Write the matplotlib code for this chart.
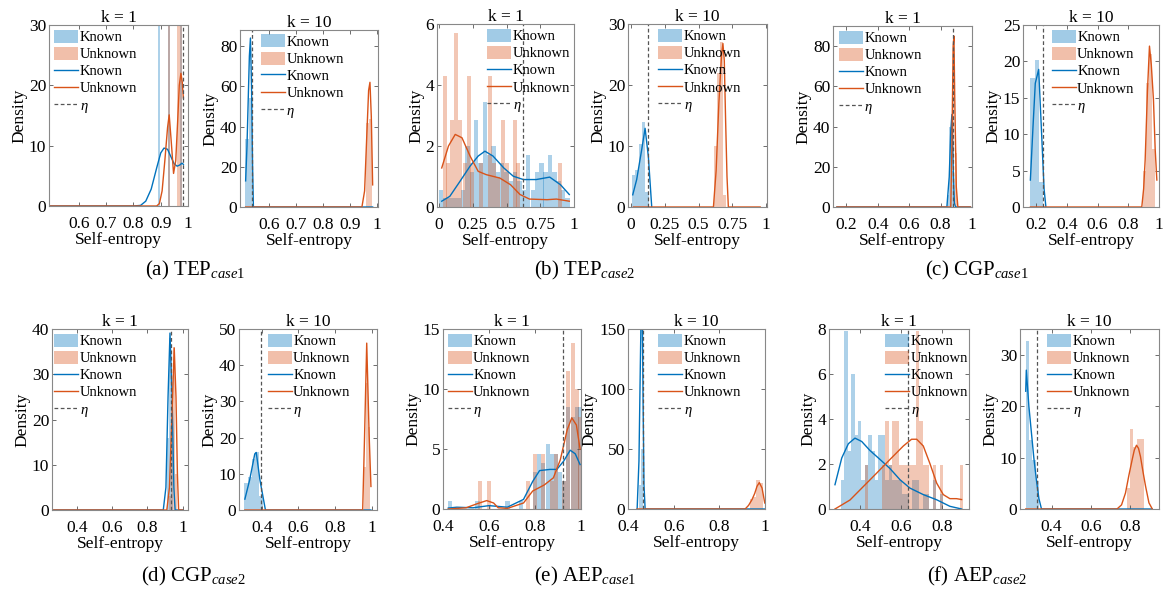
import numpy as np
import matplotlib.pyplot as plt
from matplotlib.patches import Patch
from matplotlib.lines import Line2D
from matplotlib.ticker import FormatStrFormatter

plt.rcParams['font.family'] = ['Liberation Serif', 'DejaVu Serif']
plt.rcParams['mathtext.fontset'] = 'custom'
plt.rcParams['mathtext.rm'] = 'Liberation Serif'
plt.rcParams['mathtext.it'] = 'Liberation Serif:italic'

# ---------------- TEP case1 ----------------
tep1_k1_known_bins = [0.893, 0.930, 0.975]
tep1_k1_known_dens = [45, 45, 45]
tep1_k1_unknown_bins = [0.930, 0.965, 0.975]
tep1_k1_unknown_dens = [45, 45, 45]
tep1_k1_known_kde_x = [0.49, 0.80, 0.826, 0.845, 0.865, 0.885, 0.90, 0.912, 0.925, 0.937, 0.949, 0.96, 0.97, 0.978, 0.983]
tep1_k1_known_kde_y = [0, 0, 0.1, 0.8, 2.8, 6.3, 8.8, 9.6, 9.4, 8.2, 7.0, 6.6, 6.8, 7.1, 6.9]
tep1_k1_unknown_kde_x = [0.49, 0.885, 0.895, 0.905, 0.915, 0.925, 0.931, 0.938, 0.947, 0.955, 0.962, 0.968, 0.974, 0.979, 0.983]
tep1_k1_unknown_kde_y = [0, 0, 0.4, 2.5, 7.5, 13, 15.1, 11, 5.4, 7.5, 14, 20, 22, 20.5, 17.9]
tep1_k1_eta = 0.98

tep1_k10_known_bins = [0.517, 0.530]
tep1_k10_known_dens = [34, 54]
tep1_k10_unknown_bins = [0.967, 0.977]
tep1_k10_unknown_dens = [42, 44]
tep1_k10_known_kde_x = [0.511, 0.516, 0.521, 0.525, 0.529, 0.533, 0.537, 0.540, 0.985]
tep1_k10_known_kde_y = [13, 30, 55, 75, 84, 60, 20, 0, 0]
tep1_k10_unknown_kde_x = [0.511, 0.945, 0.955, 0.963, 0.970, 0.975, 0.980, 0.985]
tep1_k10_unknown_kde_y = [0, 0, 8, 35, 58, 62, 45, 11]
tep1_k10_eta = 0.536

# ---------------- TEP case2 ----------------
tep2_k1_known_bins = [0.016, 0.048, 0.081, 0.113, 0.145, 0.177, 0.210, 0.242, 0.274, 0.306,
                      0.339, 0.371, 0.403, 0.435, 0.468, 0.500, 0.532, 0.565, 0.597, 0.629,
                      0.661, 0.694, 0.726, 0.758, 0.790, 0.823, 0.855, 0.887, 0.919, 0.952]
tep2_k1_known_dens = [0.57, 0.29, 0.29, 0.29, 0.29, 0.57, 2.0, 1.14, 2.86, 1.43,
                      3.43, 1.71, 2.0, 1.14, 1.43, 1.14, 0.86, 1.14, 0.86, 0.57,
                      1.71, 0.57, 1.14, 1.43, 1.14, 1.71, 1.14, 0.86, 0.57, 0.29]
tep2_k1_unknown_bins = [0.042, 0.069, 0.096, 0.128, 0.158, 0.190, 0.220, 0.244, 0.311, 0.378,
                        0.405, 0.437, 0.477, 0.501, 0.563, 0.588, 0.896]
tep2_k1_unknown_dens = [4.29, 1.43, 2.86, 5.71, 2.86, 1.43, 4.29, 1.43, 1.43, 4.29,
                        1.43, 1.0, 2.86, 1.43, 2.86, 1.43, 1.43]
tep2_k1_known_kde_x = [0.02, 0.08, 0.155, 0.23, 0.29, 0.34, 0.40, 0.48, 0.55, 0.625, 0.72, 0.82, 0.90, 0.965]
tep2_k1_known_kde_y = [0.19, 0.35, 0.84, 1.34, 1.67, 1.83, 1.67, 1.28, 1.01, 0.90, 0.90, 0.98, 0.73, 0.41]
tep2_k1_unknown_kde_x = [0.02, 0.07, 0.12, 0.17, 0.23, 0.29, 0.35, 0.45, 0.53, 0.60, 0.67, 0.80, 0.87, 0.965]
tep2_k1_unknown_kde_y = [1.28, 2.0, 2.38, 2.27, 1.67, 1.17, 1.06, 0.95, 0.73, 0.41, 0.26, 0.24, 0.26, 0.19]
tep2_k1_eta = 0.62

tep2_k10_known_bins = [0.020, 0.045, 0.070, 0.095, 0.120]
tep2_k10_known_dens = [5.2, 6.0, 10.3, 14.0, 2.5]
tep2_k10_unknown_bins = [0.628, 0.650, 0.672, 0.694]
tep2_k10_unknown_dens = [10, 22, 27, 2]
tep2_k10_known_kde_x = [0.015, 0.044, 0.081, 0.106, 0.13, 0.155]
tep2_k10_known_kde_y = [2.0, 4.5, 9.4, 12.9, 8.3, 0]
tep2_k10_unknown_kde_x = [0.02, 0.61, 0.63, 0.65, 0.67, 0.68, 0.69, 0.70, 0.71, 0.72, 0.955]
tep2_k10_unknown_kde_y = [0, 0, 6, 17, 25, 26.8, 24, 14, 5, 0, 0]
tep2_k10_eta = 0.13

# ---------------- CGP case1 ----------------
cgp1_k1_known_bins = [0.846, 0.862, 0.878]
cgp1_k1_known_dens = [6, 40, 18]
cgp1_k1_unknown_bins = [0.883, 0.898]
cgp1_k1_unknown_dens = [85, 27]
cgp1_k1_known_kde_x = [0.14, 0.84, 0.855, 0.865, 0.872, 0.88, 0.888, 0.895, 0.99]
cgp1_k1_known_kde_y = [0, 0, 15, 38, 46, 20, 2, 0, 0]
cgp1_k1_unknown_kde_x = [0.14, 0.865, 0.872, 0.88, 0.885, 0.89, 0.90, 0.91, 0.99]
cgp1_k1_unknown_kde_y = [0, 0, 30, 80, 85, 55, 10, 0, 0]
cgp1_k1_eta = 0.878

cgp1_k10_known_bins = [0.176, 0.205, 0.234]
cgp1_k10_known_dens = [17.7, 20.2, 3.5]
cgp1_k10_unknown_bins = [0.905, 0.925, 0.945, 0.965]
cgp1_k10_unknown_dens = [5, 17, 21, 8]
cgp1_k10_known_kde_x = [0.163, 0.18, 0.195, 0.217, 0.238, 0.252, 0.264]
cgp1_k10_known_kde_y = [3.7, 11, 17, 18.9, 9.2, 2.5, 0]
cgp1_k10_unknown_kde_x = [0.163, 0.888, 0.90, 0.91, 0.925, 0.938, 0.95, 0.964, 0.975, 0.986]
cgp1_k10_unknown_kde_y = [0, 0, 2.5, 6.5, 16, 22.1, 19.5, 14.7, 8, 3.7]
cgp1_k10_eta = 0.243

# ---------------- CGP case2 ----------------
cgp2_k1_known_bins = [0.915, 0.927, 0.939]
cgp2_k1_known_dens = [16, 38, 20]
cgp2_k1_unknown_bins = [0.927, 0.939, 0.951, 0.963]
cgp2_k1_unknown_dens = [3, 19, 36, 8]
cgp2_k1_known_kde_x = [0.27, 0.89, 0.905, 0.917, 0.928, 0.94, 0.95, 0.957, 1.0]
cgp2_k1_known_kde_y = [0, 0, 5, 25, 39.1, 25, 5, 0, 0]
cgp2_k1_unknown_kde_x = [0.27, 0.91, 0.925, 0.94, 0.952, 0.962, 0.97, 0.977, 1.0]
cgp2_k1_unknown_kde_y = [0, 0, 5, 22, 35.8, 25, 8, 0, 0]
cgp2_k1_eta = 0.934

cgp2_k10_known_bins = [0.315, 0.335, 0.355, 0.375, 0.395]
cgp2_k10_known_dens = [7.5, 9, 14, 16, 4]
cgp2_k10_unknown_bins = [0.962, 0.972, 0.984]
cgp2_k10_unknown_dens = [12, 35, 23]
cgp2_k10_known_kde_x = [0.308, 0.334, 0.362, 0.37, 0.39, 0.42, 0.995]
cgp2_k10_known_kde_y = [3, 8.3, 15.5, 15.9, 8.3, 0, 0]
cgp2_k10_unknown_kde_x = [0.308, 0.95, 0.96, 0.972, 0.985, 0.995]
cgp2_k10_unknown_kde_y = [0, 0, 20, 46.1, 21, 6.5]
cgp2_k10_eta = 0.395

# ---------------- AEP case1 ----------------
aep1_k1_known_bins = [0.430, 0.550, 0.680, 0.740, 0.800, 0.818, 0.836, 0.855, 0.873, 0.891,
                      0.909, 0.927, 0.945, 0.964, 0.982, 0.995]
aep1_k1_known_dens = [0.7, 0.7, 0.7, 0.7, 3.1, 4.6, 3.8, 5.4, 4.6, 4.6,
                      3.1, 2.3, 8.5, 7.7, 8.5, 8.5]
aep1_k1_unknown_bins = [0.560, 0.600, 0.770, 0.800, 0.836, 0.873, 0.891, 0.927, 0.945, 0.964, 0.982, 0.995]
aep1_k1_unknown_dens = [2.3, 2.3, 2.3, 4.6, 4.6, 2.3, 4.6, 2.3, 11.5, 13.8, 10.0, 7.7]
aep1_k1_known_kde_x = [0.423, 0.46, 0.53, 0.60, 0.68, 0.75, 0.79, 0.82, 0.865, 0.895, 0.925, 0.953, 0.975, 0.996]
aep1_k1_known_kde_y = [0.08, 0.15, 0.1, 0.28, 0.15, 0.8, 2.3, 3.2, 3.3, 3.3, 4.0, 4.9, 4.6, 3.7]
aep1_k1_unknown_kde_x = [0.423, 0.50, 0.55, 0.59, 0.62, 0.64, 0.68, 0.75, 0.79, 0.84, 0.88, 0.91, 0.94, 0.96, 0.98, 0.996]
aep1_k1_unknown_kde_y = [0, 0.1, 0.45, 0.7, 0.5, 0.1, 0.05, 0.5, 1.5, 2.0, 2.6, 4.1, 6.6, 7.6, 7.0, 5.0]
aep1_k1_eta = 0.923

aep1_k10_known_bins = [0.452, 0.462]
aep1_k10_known_dens = [20, 50]
aep1_k10_unknown_bins = [0.940, 0.955, 0.970, 0.985]
aep1_k10_unknown_dens = [8, 10, 24, 22]
aep1_k10_known_kde_x = [0.44, 0.448, 0.454, 0.458, 0.462, 0.466, 0.47, 0.475, 1.0]
aep1_k10_known_kde_y = [0, 40, 120, 170, 180, 90, 20, 0, 0]
aep1_k10_unknown_kde_x = [0.44, 0.913, 0.928, 0.943, 0.955, 0.965, 0.975, 0.987, 0.999]
aep1_k10_unknown_kde_y = [0, 0, 3, 7.8, 13, 18.9, 22, 17.5, 5]
aep1_k10_eta = 0.465

# ---------------- AEP case2 ----------------
aep2_k1_known_bins = [0.3165, 0.333, 0.3495, 0.366, 0.3825, 0.399, 0.4155, 0.432, 0.4485, 0.465,
                      0.4815, 0.498, 0.5145, 0.531, 0.5475, 0.564, 0.5805, 0.597, 0.6135, 0.630,
                      0.663, 0.6795, 0.7125, 0.729, 0.762, 0.795]
aep2_k1_known_dens = [1.3, 7.9, 2.6, 6.0, 3.3, 3.9, 1.3, 1.95, 3.3, 2.6,
                      1.3, 3.3, 3.3, 1.3, 1.95, 1.3, 1.3, 1.3, 0.65, 0.65,
                      1.3, 1.3, 0.65, 0.65, 1.3, 0.65]
aep2_k1_unknown_bins = [0.432, 0.5145, 0.531, 0.5475, 0.564, 0.5805, 0.597, 0.6135, 0.630, 0.6465,
                        0.663, 0.6795, 0.696, 0.7125, 0.729, 0.762, 0.795, 0.894]
aep2_k1_unknown_dens = [1.95, 1.95, 3.9, 1.95, 3.9, 3.9, 1.95, 1.95, 1.95, 1.95,
                        1.95, 7.9, 3.9, 1.95, 1.95, 1.95, 1.95, 1.95]
aep2_k1_known_kde_x = [0.279, 0.312, 0.344, 0.376, 0.409, 0.449, 0.498, 0.546, 0.595, 0.643, 0.708, 0.773, 0.837, 0.894]
aep2_k1_known_kde_y = [1.08, 2.27, 2.9, 3.15, 3.0, 2.6, 2.2, 1.8, 1.3, 0.93, 0.64, 0.41, 0.12, 0]
aep2_k1_unknown_kde_x = [0.279, 0.352, 0.417, 0.482, 0.546, 0.611, 0.651, 0.676, 0.708, 0.741, 0.773, 0.805, 0.837, 0.869, 0.894]
aep2_k1_unknown_kde_y = [0, 0.4, 1.0, 1.6, 2.2, 2.8, 3.1, 3.1, 2.8, 2.0, 1.15, 0.64, 0.46, 0.46, 0.42]
aep2_k1_eta = 0.635

aep2_k10_known_bins = [0.277, 0.294, 0.311, 0.328]
aep2_k10_known_dens = [32.7, 13.5, 9.5, 5.4]
aep2_k10_unknown_bins = [0.790, 0.807, 0.824, 0.841, 0.858]
aep2_k10_unknown_dens = [4, 15.5, 12, 13.6, 13.6]
aep2_k10_known_kde_x = [0.269, 0.272, 0.285, 0.298, 0.31, 0.323, 0.336, 0.349, 0.911]
aep2_k10_known_kde_y = [22.9, 27, 20, 14.8, 10, 5.7, 2, 0, 0]
aep2_k10_unknown_kde_x = [0.269, 0.732, 0.755, 0.775, 0.792, 0.809, 0.82, 0.831, 0.841, 0.851, 0.864, 0.877, 0.894, 0.911]
aep2_k10_unknown_kde_y = [0, 0, 0.8, 3.1, 6.5, 9.6, 11.5, 12.4, 11.8, 10.2, 7.2, 4.4, 1.2, 0]
aep2_k10_eta = 0.327

KNOWN_C = '#0072BD'
UNKNOWN_C = '#D95319'
ALPHA = 0.32

fig = plt.figure(figsize=(11.63, 6.01), dpi=100)
W, H = 1163.0, 601.0


def add_ax(l, t, r, b):
    return fig.add_axes([l / W, 1 - b / H, (r - l) / W, (b - t) / H])


def panel(box, kb, kd, kw, ub, ud, uw, kx, ky, ux, uy, eta, xlim, ylim, xticks, yticks, title, leg_x):
    ax = add_ax(*box)
    ax.bar(kb, kd, width=kw, color=KNOWN_C, alpha=ALPHA, linewidth=0)
    ax.bar(ub, ud, width=uw, color=UNKNOWN_C, alpha=ALPHA, linewidth=0)
    ax.plot(kx, ky, color=KNOWN_C, lw=1.0)
    ax.plot(ux, uy, color=UNKNOWN_C, lw=1.0)
    ax.axvline(eta, color='#555555', lw=0.9, ls=(0, (3, 2)))
    ax.set_xlim(*xlim)
    ax.set_ylim(*ylim)
    ax.set_xticks(xticks)
    ax.set_yticks(yticks)
    ax.xaxis.set_major_formatter(FormatStrFormatter('%g'))
    ax.yaxis.set_major_formatter(FormatStrFormatter('%g'))
    ax.tick_params(direction='in', length=3, width=0.6, top=True, right=True,
                   labelsize=12.5, color='#555555')
    ax.tick_params(axis='x', pad=7.5)
    ax.tick_params(axis='y', pad=2)
    for s in ax.spines.values():
        s.set_color('#888888')
        s.set_linewidth(0.8)
    ax.set_title(title, fontsize=12.5, pad=2.5)
    ax.set_xlabel('Self-entropy', fontsize=12.5, labelpad=0)
    ax.set_ylabel('Density', fontsize=12.5, labelpad=1)
    handles = [Patch(facecolor=KNOWN_C, alpha=ALPHA + 0.05, linewidth=0),
               Patch(facecolor=UNKNOWN_C, alpha=ALPHA + 0.05, linewidth=0),
               Line2D([], [], color=KNOWN_C, lw=1.0),
               Line2D([], [], color=UNKNOWN_C, lw=1.0),
               Line2D([], [], color='#555555', lw=0.9, ls=(0, (3, 2)))]
    ax.legend(handles, ['Known', 'Unknown', 'Known', 'Unknown', r'$\eta$'],
              loc='upper left', bbox_to_anchor=(leg_x, 0.975), frameon=False,
              fontsize=10.5, handlelength=1.65, handleheight=1.0, handletextpad=0.1,
              labelspacing=0.18, borderpad=0, borderaxespad=0)
    return ax


panel((49, 25, 188, 206), tep1_k1_known_bins, tep1_k1_known_dens, 0.0095,
      tep1_k1_unknown_bins, tep1_k1_unknown_dens, 0.0095,
      tep1_k1_known_kde_x, tep1_k1_known_kde_y, tep1_k1_unknown_kde_x, tep1_k1_unknown_kde_y,
      tep1_k1_eta, (0.49, 1.0), (0, 30), [0.6, 0.7, 0.8, 0.9, 1.0], [0, 10, 20, 30], 'k = 1', 0.036)
panel((240, 30, 378, 207), tep1_k10_known_bins, tep1_k10_known_dens, 0.013,
      tep1_k10_unknown_bins, tep1_k10_unknown_dens, 0.01,
      tep1_k10_known_kde_x, tep1_k10_known_kde_y, tep1_k10_unknown_kde_x, tep1_k10_unknown_kde_y,
      tep1_k10_eta, (0.49, 1.005), (0, 88), [0.6, 0.7, 0.8, 0.9, 1.0], [0, 20, 40, 60, 80], 'k = 10', 0.152)
panel((437, 24, 574, 207), tep2_k1_known_bins, tep2_k1_known_dens, 0.0323,
      tep2_k1_unknown_bins, tep2_k1_unknown_dens, 0.029,
      tep2_k1_known_kde_x, tep2_k1_known_kde_y, tep2_k1_unknown_kde_x, tep2_k1_unknown_kde_y,
      tep2_k1_eta, (-0.015, 1.0), (0, 6), [0, 0.25, 0.5, 0.75, 1.0], [0, 2, 4, 6], 'k = 1', 0.367)
panel((628, 24, 767, 207), tep2_k10_known_bins, tep2_k10_known_dens, 0.025,
      tep2_k10_unknown_bins, tep2_k10_unknown_dens, 0.022,
      tep2_k10_known_kde_x, tep2_k10_known_kde_y, tep2_k10_unknown_kde_x, tep2_k10_unknown_kde_y,
      tep2_k10_eta, (-0.02, 1.005), (0, 30), [0, 0.25, 0.5, 0.75, 1.0], [0, 10, 20, 30], 'k = 10', 0.218)
panel((833, 26, 972, 207), cgp1_k1_known_bins, cgp1_k1_known_dens, 0.016,
      cgp1_k1_unknown_bins, cgp1_k1_unknown_dens, 0.011,
      cgp1_k1_known_kde_x, cgp1_k1_known_kde_y, cgp1_k1_unknown_kde_x, cgp1_k1_unknown_kde_y,
      cgp1_k1_eta, (0.115, 1.0), (0, 90), [0.2, 0.4, 0.6, 0.8, 1.0], [0, 20, 40, 60, 80], 'k = 1', 0.043)
panel((1023, 25, 1159, 207), cgp1_k10_known_bins, cgp1_k10_known_dens, 0.028,
      cgp1_k10_unknown_bins, cgp1_k10_unknown_dens, 0.02,
      cgp1_k10_known_kde_x, cgp1_k10_known_kde_y, cgp1_k10_unknown_kde_x, cgp1_k10_unknown_kde_y,
      cgp1_k10_eta, (0.115, 1.0), (0, 25), [0.2, 0.4, 0.6, 0.8, 1.0], [0, 5, 10, 15, 20, 25], 'k = 10', 0.211)
panel((52, 329, 188, 510), cgp2_k1_known_bins, cgp2_k1_known_dens, 0.012,
      cgp2_k1_unknown_bins, cgp2_k1_unknown_dens, 0.012,
      cgp2_k1_known_kde_x, cgp2_k1_known_kde_y, cgp2_k1_unknown_kde_x, cgp2_k1_unknown_kde_y,
      cgp2_k1_eta, (0.26, 1.03), (0, 40), [0.4, 0.6, 0.8, 1.0], [0, 10, 20, 30, 40], 'k = 1', 0.017)
panel((239, 329, 377, 510), cgp2_k10_known_bins, cgp2_k10_known_dens, 0.02,
      cgp2_k10_unknown_bins, cgp2_k10_unknown_dens, 0.011,
      cgp2_k10_known_kde_x, cgp2_k10_known_kde_y, cgp2_k10_unknown_kde_x, cgp2_k10_unknown_kde_y,
      cgp2_k10_eta, (0.276, 1.028), (0, 50), [0.4, 0.6, 0.8, 1.0], [0, 10, 20, 30, 40, 50], 'k = 10', 0.208)
panel((443, 329, 581, 509), aep1_k1_known_bins, aep1_k1_known_dens, 0.0185,
      aep1_k1_unknown_bins, aep1_k1_unknown_dens, 0.0185,
      aep1_k1_known_kde_x, aep1_k1_known_kde_y, aep1_k1_unknown_kde_x, aep1_k1_unknown_kde_y,
      aep1_k1_eta, (0.4, 1.0), (0, 15), [0.4, 0.6, 0.8, 1.0], [0, 5, 10, 15], 'k = 1', 0.034)
panel((628, 329, 765, 509), aep1_k10_known_bins, aep1_k10_known_dens, 0.01,
      aep1_k10_unknown_bins, aep1_k10_unknown_dens, 0.015,
      aep1_k10_known_kde_x, aep1_k10_known_kde_y, aep1_k10_unknown_kde_x, aep1_k10_unknown_kde_y,
      aep1_k10_eta, (0.4, 1.0), (0, 150), [0.4, 0.6, 0.8, 1.0], [0, 50, 100, 150], 'k = 10', 0.221)
panel((829, 329, 969, 509), aep2_k1_known_bins, aep2_k1_known_dens, 0.0165,
      aep2_k1_unknown_bins, aep2_k1_unknown_dens, 0.0165,
      aep2_k1_known_kde_x, aep2_k1_known_kde_y, aep2_k1_unknown_kde_x, aep2_k1_unknown_kde_y,
      aep2_k1_eta, (0.25, 0.93), (0, 8), [0.4, 0.6, 0.8], [0, 2, 4, 6, 8], 'k = 1', 0.40)
panel((1020, 329, 1159, 509), aep2_k10_known_bins, aep2_k10_known_dens, 0.017,
      aep2_k10_unknown_bins, aep2_k10_unknown_dens, 0.017,
      aep2_k10_known_kde_x, aep2_k10_known_kde_y, aep2_k10_unknown_kde_x, aep2_k10_unknown_kde_y,
      aep2_k10_eta, (0.24, 0.945), (0, 35), [0.4, 0.6, 0.8], [0, 10, 20, 30], 'k = 10', 0.196)

# sub-figure captions
captions = [(195, 270, 'a', 'TEP', '1'), (585, 270, 'b', 'TEP', '2'), (977, 270, 'c', 'CGP', '1'),
            (193, 576, 'd', 'CGP', '2'), (585, 576, 'e', 'AEP', '1'), (977, 576, 'f', 'AEP', '2')]
for cx, cy, letter, name, num in captions:
    fig.text(cx / W, 1 - cy / H, '(%s) %s$_{\\mathit{case}%s}$' % (letter, name, num),
             fontsize=15, ha='center', va='center')

fig.savefig('out.png', dpi=100)
